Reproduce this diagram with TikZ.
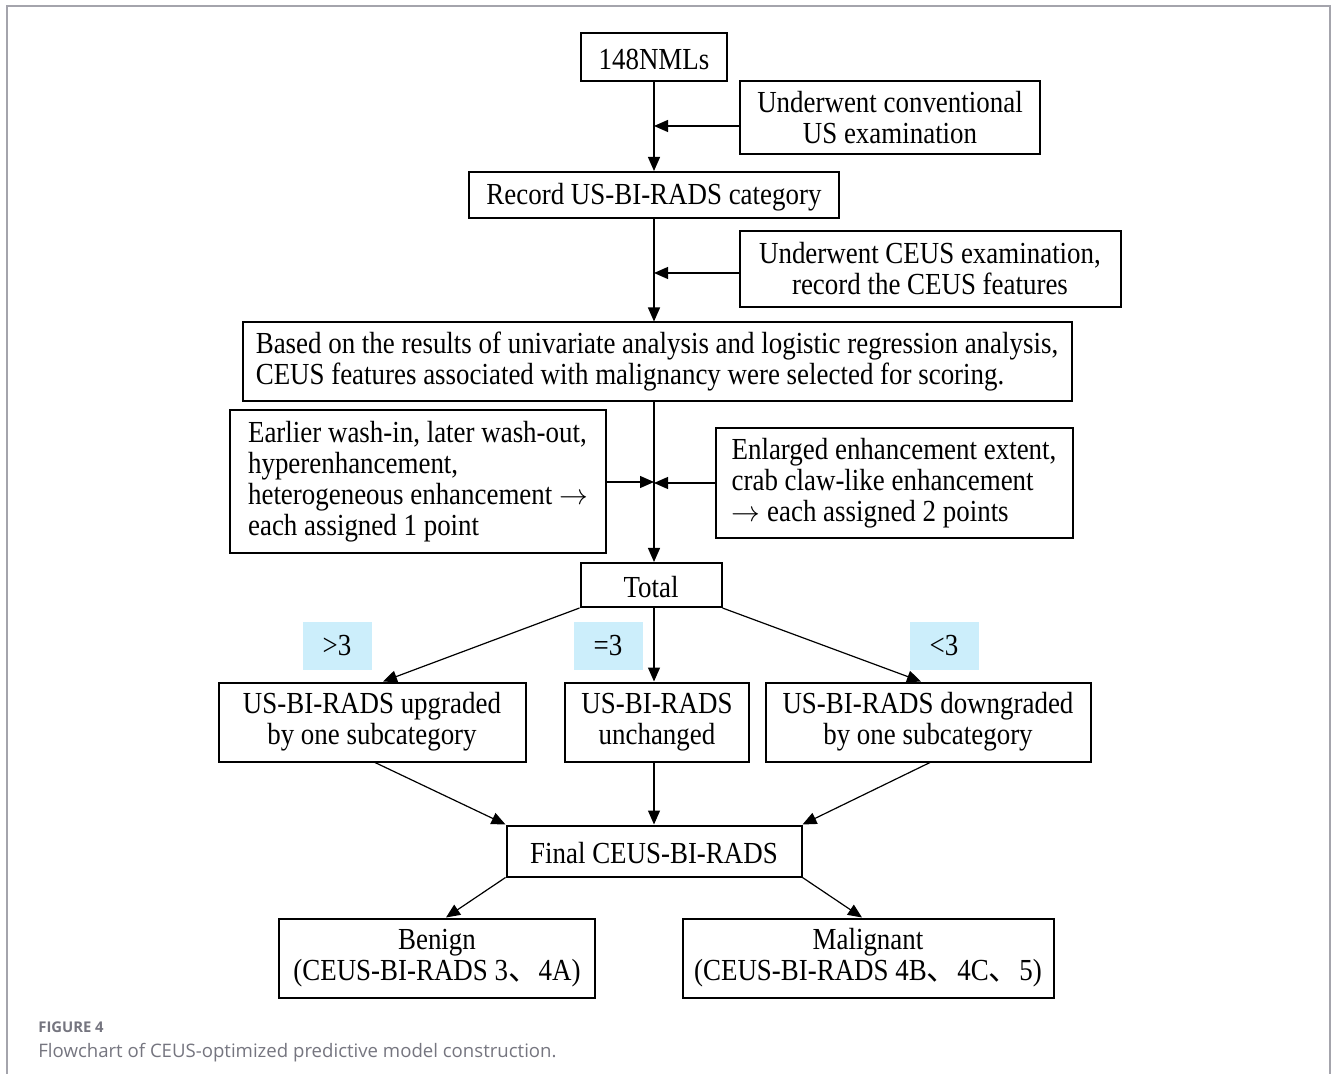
\documentclass[tikz,border=0pt]{standalone}
\usepackage{fontspec}
\setmainfont[FakeStretch=0.88]{Liberation Serif}
\newfontfamily\capfont{Open Sans}
\newfontfamily\cjk{Noto Sans CJK SC}
\usepackage{xcolor}
\usetikzlibrary{arrows.meta}
\definecolor{Tag}{HTML}{CCEEFB}
\definecolor{Frame}{HTML}{A4A4AC}
\definecolor{CapGray}{HTML}{75757F}
\tikzset{
  box/.style={draw, line width=1pt, inner sep=0pt, align=center, font=\fontsize{15.3}{15.5}\selectfont,
    execute at begin node={\rule{0pt}{12.5pt}}},
  tag/.style={fill=Tag, inner sep=0pt, minimum width=34.5pt, minimum height=24pt, font=\fontsize{15.3}{15.5}\selectfont},
  arr/.style={-{Triangle[length=7pt,width=6pt]}, line width=0.6pt},
}

\begin{document}
\begin{tikzpicture}[x=0.5pt, y=-0.5pt]
        \useasboundingbox (0,0) rectangle (1333,1074);
        \draw[Frame, line width=0.8pt] (7,1074) -- (7,6) -- (1330,6) -- (1330,1074);

        % boxes
        \node[box, minimum width=73pt, minimum height=24pt] (N0) at (654,57) {148NMLs};
        \node[box, minimum width=150pt, minimum height=36.5pt] (Conv) at (890,118) {Underwent conventional\\US examination};
        \node[box, minimum width=185pt, minimum height=23pt] (Rec) at (654,195) {Record US-BI-RADS category};
        \node[box, minimum width=190.5pt, minimum height=38pt] (Ceus) at (930,269) {Underwent CEUS examination,\\record the CEUS features};
        \node[box, align=left, minimum width=414.5pt, minimum height=39.5pt] (Sel) at (657,362) {Based on the results of univariate analysis and logistic regression analysis,\\CEUS features associated with malignancy were selected for scoring.};
        \node[box, align=left, minimum width=188pt, minimum height=71.5pt] (Pt1) at (418,482) {Earlier wash-in, later wash-out,\\hyperenhancement,\\heterogeneous enhancement $\rightarrow$\\each assigned 1 point};
        \node[box, align=left, minimum width=178.5pt, minimum height=55pt] (Pt2) at (894,483) {Enlarged enhancement extent,\\crab claw-like enhancement\\$\rightarrow$ each assigned 2 points};
        \node[box, minimum width=70.5pt, minimum height=22pt] (Tot) at (651,585) {Total};

        % score tags
        \node[tag] (Gt) at (337,646) {>3};
        \node[tag] (Eq) at (608,646) {=3};
        \node[tag] (Lt) at (944,646) {<3};

        \node[box, minimum width=153.5pt, minimum height=39.5pt] (Up) at (372,722) {US-BI-RADS upgraded\\by one subcategory};
        \node[box, minimum width=92pt, minimum height=39.5pt] (Un) at (657,722) {US-BI-RADS\\unchanged};
        \node[box, minimum width=162.5pt, minimum height=39.5pt] (Dn) at (928,722) {US-BI-RADS downgraded\\by one subcategory};
        \node[box, minimum width=147.5pt, minimum height=25.5pt] (Fin) at (654,851) {Final CEUS-BI-RADS};
        \node[box, minimum width=158pt, minimum height=39.5pt] (Ben) at (437,958) {Benign\\(CEUS-BI-RADS 3{\cjk 、}4A)};
        \node[box, minimum width=185.5pt, minimum height=39.5pt] (Mal) at (868,958) {Malignant\\(CEUS-BI-RADS 4B{\cjk 、}4C{\cjk 、}5)};

        % edges
        \draw[arr] (N0) -- (Rec);
        \draw[arr] ([yshift=-4pt]Conv.west) -- ([yshift=-4pt]Conv.west -| N0.south);
        \draw[arr] (Rec.south) -- (Rec.south |- Sel.north);
        \draw[arr] ([yshift=-2pt]Ceus.west) -- ([yshift=-2pt]Ceus.west -| Rec.south);
        \draw[arr] (Sel.south -| N0.south) -- (Tot.north -| N0.south);
        \draw[arr] (Pt1.east) -- (Pt1.east -| N0.south);
        \draw[arr] (Pt2.west) -- (Pt2.west -| N0.south);
        \draw[arr] (Tot.south west) -- ([xshift=5.5pt]Up.north);
        \draw[arr] (Tot.south -| N0.south) -- (Un.north -| N0.south);
        \draw[arr] (Tot.south east) -- ([xshift=-3.5pt]Dn.north);
        \draw[arr] ([xshift=1.5pt]Up.south) -- (Fin.north west);
        \draw[arr] (Un.south -| N0.south) -- (Fin.north -| N0.south);
        \draw[arr] ([xshift=1pt]Dn.south) -- (Fin.north east);
        \draw[arr] (Fin.south west) -- ([xshift=4.5pt]Ben.north);
        \draw[arr] (Fin.south east) -- ([xshift=-3pt]Mal.north);

        % caption
        \node[anchor=base west, inner sep=0pt, text=CapGray, font=\capfont\fontsize{7.4}{9}\selectfont\bfseries] (FigNo) at (38,1032) {FIGURE 4};
        \node[anchor=base west, inner sep=0pt, text=CapGray, font=\capfont\fontsize{9.3}{11}\selectfont] (Cap) at (38,1057) {Flowchart of CEUS-optimized predictive model construction.};
\end{tikzpicture}
\end{document}
